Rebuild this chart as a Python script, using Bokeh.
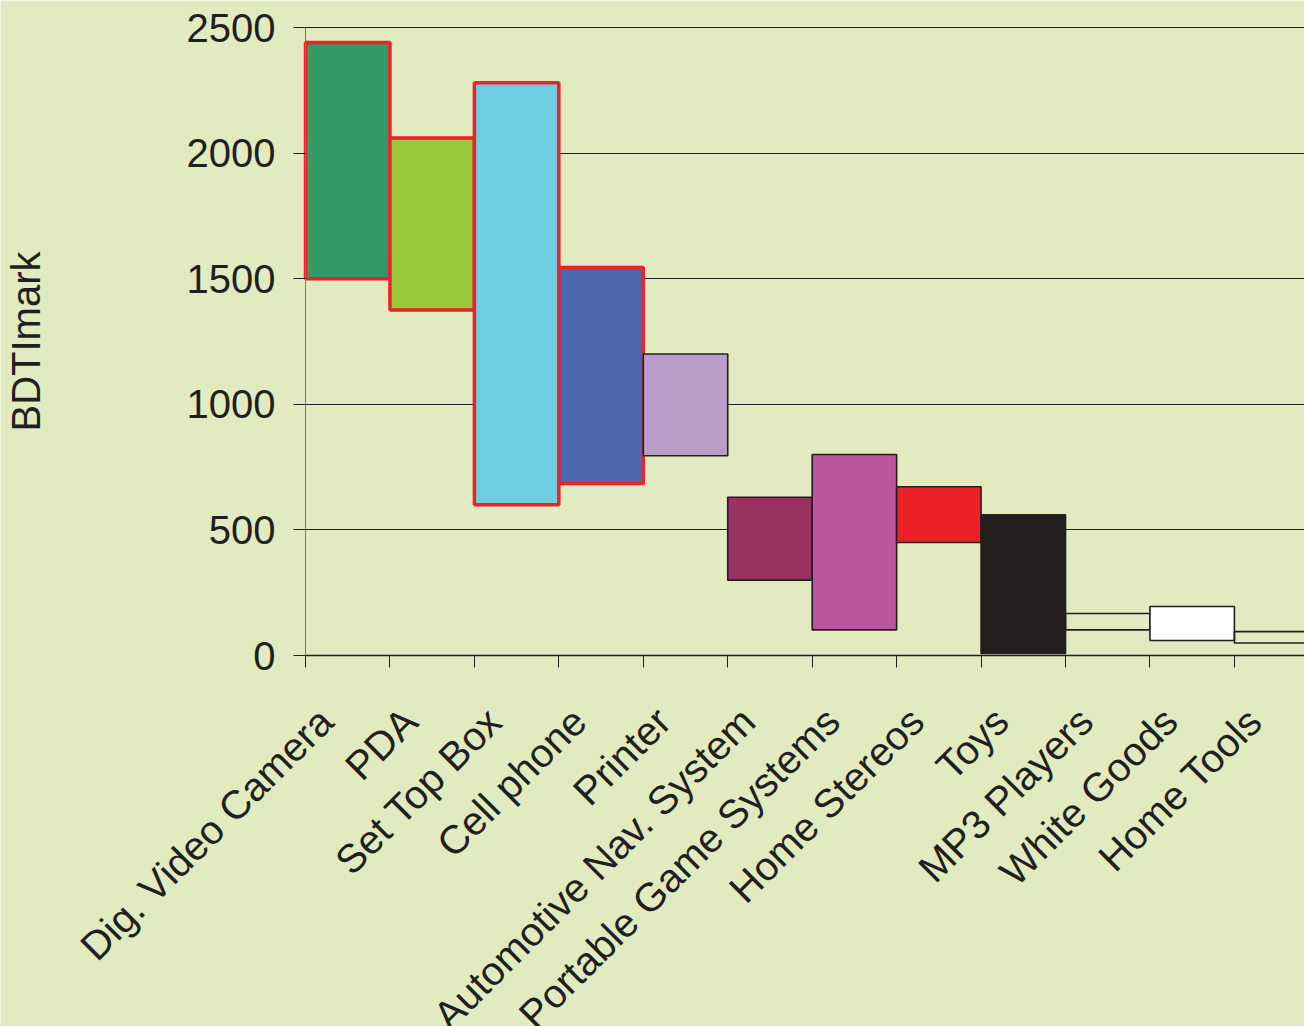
from math import pi
from bokeh.plotting import figure
from bokeh.models import FixedTicker, ColumnDataSource, Range1d
from bokeh.core.properties import value
from bokeh.embed import file_html
from bokeh.resources import INLINE

categories = ["Dig. Video Camera", "PDA", "Set Top Box", "Cell phone", "Printer",
              "Automotive Nav. System", "Portable Game Systems", "Home Stereos",
              "Toys", "MP3 Players", "White Goods", "Home Tools"]
high = [2440, 2060, 2280, 1545, 1200, 630, 800, 672, 560, 167, 195, 95]
low = [1500, 1375, 600, 685, 795, 300, 102, 450, 8, 102, 60, 50]
fill_colors = ["#339966", "#99c93a", "#6ecde0", "#4a67b0", "#b89cca", "#973262",
               "#b9559f", "#ed2229", "#231f20", "#ffffff", "#ffffff", "#ffffff"]
fill_alphas = [1, 1, 1, 1, 1, 1, 1, 1, 1, 0, 1, 0]
line_colors = ["#ed2229"] * 4 + ["#231f20"] * 8
line_widths = [3.5] * 4 + [1.6] * 8
y_ticks = [0, 500, 1000, 1500, 2000, 2500]

n = len(categories)
left = list(range(n))
right = [i + 1 for i in range(n)]
centers = [i + 0.5 for i in range(n)]

BG = "#e1ebbf"
FONT = "Liberation Sans"
TXT = "#231f20"
FS = "40px"

# page geometry (pixels): plotting area spans x 305..1304, y 27..655
W, H = 1304, 1026
PLOT_LEFT, PLOT_TOP, PLOT_BOTTOM = 305, 27, 655
X_END = 11.83
Y_MAX = y_ticks[-1]
PX_X = (W - PLOT_LEFT) / X_END              # pixels per category
U_Y = Y_MAX / (PLOT_BOTTOM - PLOT_TOP)      # data units per pixel
x_range = Range1d(-PLOT_LEFT / PX_X, X_END)
y_range = Range1d(-(H - PLOT_BOTTOM) * U_Y, Y_MAX + PLOT_TOP * U_Y)

src = ColumnDataSource(dict(left=left, right=right, top=high, bottom=low,
                            fc=fill_colors, fa=fill_alphas, lc=line_colors, lw=line_widths))

p = figure(width=W, height=H, x_range=x_range, y_range=y_range,
           output_backend="svg", toolbar_location=None,
           min_border_left=0, min_border_right=0, min_border_top=0, min_border_bottom=0)
p.background_fill_color = BG
p.border_fill_color = BG
p.outline_line_color = None

p.xgrid.grid_line_color = None
yg = p.ygrid[0]
yg.grid_line_color = TXT
yg.grid_line_width = 1
yg.ticker = FixedTicker(ticks=y_ticks)
if "cross_bounds" in yg.properties():
    yg.cross_bounds = (0, X_END)
else:
    yg.grid_line_color = None
    p.segment(x0=0, x1=X_END, y0=y_ticks, y1=y_ticks, line_color=TXT, line_width=1)

p.quad(left="left", right="right", top="top", bottom="bottom", source=src,
       fill_color="fc", fill_alpha="fa", line_color="lc", line_width="lw")

ya = p.yaxis[0]
ya.fixed_location = 0
ya.bounds = (0, Y_MAX)
ya.ticker = FixedTicker(ticks=y_ticks)
ya.major_label_text_font = FONT
ya.major_label_text_font_size = FS
ya.major_label_text_color = TXT
ya.major_tick_out = 12
ya.major_tick_in = 0
ya.major_tick_line_color = TXT
ya.minor_tick_line_color = None
ya.axis_line_color = "#777777"
ya.major_label_standoff = 18
ya.axis_label = "BDTImark"
ya.axis_label_text_font = FONT
ya.axis_label_text_font_size = FS
ya.axis_label_text_font_style = "normal"
ya.axis_label_text_color = TXT
ya.axis_label_standoff = 136

xa = p.xaxis[0]
xa.fixed_location = 0
xa.bounds = (0, X_END)
xa.ticker = FixedTicker(ticks=left + [n], minor_ticks=[])
xa.major_label_overrides = {t: "" for t in left + [n]}
xa.major_label_text_font_size = "1px"
xa.major_tick_out = 12
xa.major_tick_in = 0
xa.major_tick_line_color = TXT
xa.minor_tick_line_color = None
xa.axis_line_color = TXT
xa.axis_line_width = 1.5

# rotated category labels, ending just left of each category centre
lab_src = ColumnDataSource(dict(x=[c - 22 / PX_X for c in centers],
                                y=[-(714 - PLOT_BOTTOM) * U_Y] * n, text=categories))
p.text(x="x", y="y", text="text", source=lab_src, angle=pi / 4,
       text_align="right", text_baseline="alphabetic",
       text_font=value(FONT), text_font_size=value(FS), text_color=TXT)

open("out.html", "w").write(file_html(p, INLINE))
